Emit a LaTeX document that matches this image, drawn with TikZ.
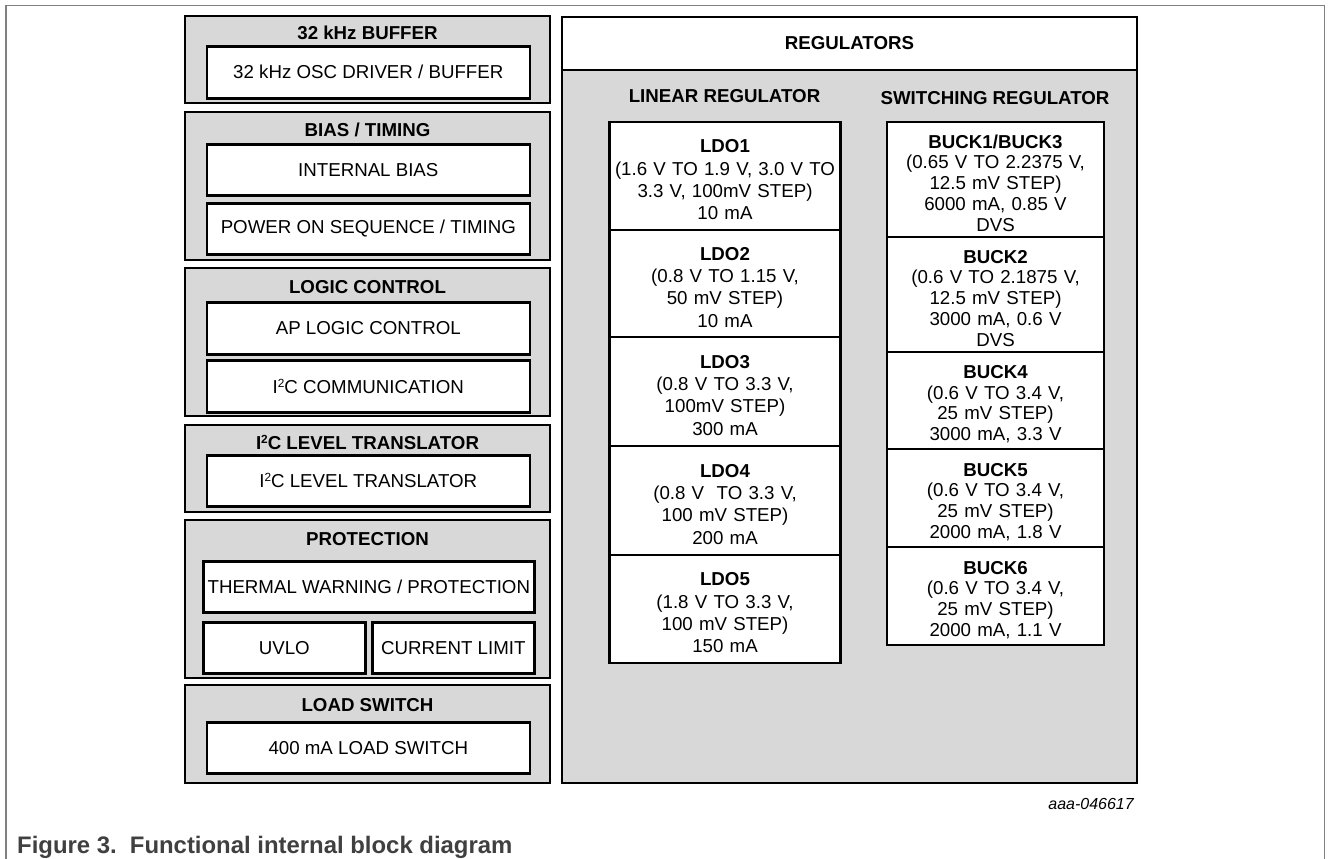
\documentclass[tikz,border=0pt]{standalone}
\usepackage{fontspec}
\setmainfont{Liberation Sans}
\usepackage{tikz}
\usetikzlibrary{positioning}
\definecolor{blkgray}{RGB}{216,216,216}
\definecolor{framegray}{RGB}{128,128,128}
\definecolor{capgray}{RGB}{64,64,64}
\newcommand{\bodyfont}{\fontsize{18.7}{22.3}\selectfont}
\newcommand{\buckfont}{\fontsize{18.7}{20.7}\selectfont}
\newcommand{\itwoc}{I\raisebox{6pt}{\fontsize{11.8}{11.8}\selectfont 2}C}
\newcommand{\regname}[1]{\rule{0pt}{20.5pt}\textbf{#1}}

\begin{document}
\begin{tikzpicture}[x=1pt,y=-1pt,
   grpbox/.style={draw,line width=2.6pt,fill=blkgray,anchor=north west,minimum width=365pt,outer sep=0pt},
   grptitle/.style={font=\bodyfont\bfseries,inner sep=0pt},
   blkbox/.style={draw,line width=2.6pt,fill=white,anchor=north west,minimum width=323pt,minimum height=52pt,inner sep=1pt,font=\bodyfont},
   ldo/.style={draw,line width=2.6pt,fill=white,minimum width=231pt,text width=225pt,align=center,inner sep=0pt,outer sep=0pt,font=\bodyfont},
   buck/.style={ldo,minimum width=217pt,text width=211pt,font=\buckfont}]
   \useasboundingbox (0,0) rectangle (1328,859);
   \draw[framegray,line width=1.3pt] (6,859) -- (6,5.5) -- (1324.5,5.5) -- (1324.5,859);

   % left column
   \node[grpbox,minimum height=87pt] (buf) at (185,16) {};
   \node[grptitle] (buftitle) at (367.5,33) {32 kHz BUFFER};
   \node[blkbox] (bufosc) at (205.5,45) {32 kHz OSC DRIVER / BUFFER};

   \node[grpbox,minimum height=148pt] (bias) at (185,112) {};
   \node[grptitle] (biastitle) at (367.5,130) {BIAS / TIMING};
   \node[blkbox,minimum height=51pt] (ibias) at (205.5,143) {INTERNAL BIAS};
   \node[blkbox,minimum height=51pt] (pwrseq) at (205.5,202) {POWER ON SEQUENCE / TIMING};

   \node[grpbox,minimum height=148pt] (logic) at (185,268) {};
   \node[grptitle] (logictitle) at (367.5,287) {LOGIC CONTROL};
   \node[blkbox] (aplogic) at (205.5,301) {AP LOGIC CONTROL};
   \node[blkbox] (i2ccom) at (205.5,359) {\itwoc{} COMMUNICATION};

   \node[grpbox,minimum height=87pt] (lvl) at (185,425) {};
   \node[grptitle] (lvltitle) at (367.5,442) {\itwoc{} LEVEL TRANSLATOR};
   \node[blkbox,minimum height=51pt] (lvltr) at (205.5,454) {\itwoc{} LEVEL TRANSLATOR};

   \node[grpbox,minimum height=158pt] (prot) at (185,520) {};
   \node[grptitle] (prottitle) at (367.5,539) {PROTECTION};
   \node[blkbox,minimum width=331pt,minimum height=51pt] (therm) at (202,560) {THERMAL WARNING / PROTECTION};
   \node[blkbox,minimum width=162pt,minimum height=51pt] (uvlo) at (202,621) {UVLO};
   \node[blkbox,minimum width=162pt,minimum height=51pt] (ilim) at (371,621) {CURRENT LIMIT};

   \node[grpbox,minimum height=98pt] (lsw) at (185,685) {};
   \node[grptitle] (lswtitle) at (367.5,705) {LOAD SWITCH};
   \node[blkbox,minimum height=51pt] (lsw400) at (205.5,721) {400 mA LOAD SWITCH};

   % regulators
   \node[grpbox,minimum width=575pt,minimum height=766pt] (reg) at (562,17) {};
   \node[grpbox,fill=white,minimum width=575pt,minimum height=53pt,font=\bodyfont\bfseries] (reghdr) at (562,17) {REGULATORS};
   \node[grptitle] (linhdr) at (724.5,96) {LINEAR REGULATOR};
   \node[grptitle] (swhdr) at (995,98) {SWITCHING REGULATOR};

   \node[ldo,anchor=north west,minimum height=108pt] (ldo1) at (609.5,122)
      {\regname{LDO1}\\(1.6 V TO 1.9 V, 3.0 V TO\\3.3 V, 100mV STEP)\\10 mA};
   \node[ldo,minimum height=107pt] (ldo2) [below=0pt of ldo1]
      {\regname{LDO2}\\(0.8 V TO 1.15 V,\\50 mV STEP)\\10 mA};
   \node[ldo,minimum height=109pt] (ldo3) [below=0pt of ldo2]
      {\regname{LDO3}\\(0.8 V TO 3.3 V,\\100mV STEP)\\300 mA};
   \node[ldo,minimum height=109pt] (ldo4) [below=0pt of ldo3]
      {\regname{LDO4}\\(0.8 V\ \ TO 3.3 V,\\100 mV STEP)\\200 mA};
   \node[ldo,minimum height=108pt] (ldo5) [below=0pt of ldo4]
      {\regname{LDO5}\\(1.8 V TO 3.3 V,\\100 mV STEP)\\150 mA};

   \node[buck,anchor=north west,minimum height=115pt] (buck13) at (887,122)
      {\regname{BUCK1/BUCK3}\\(0.65 V TO 2.2375 V,\\12.5 mV STEP)\\6000 mA, 0.85 V\\DVS};
   \node[buck,minimum height=115pt] (buck2) [below=0pt of buck13]
      {\regname{BUCK2}\\(0.6 V TO 2.1875 V,\\12.5 mV STEP)\\3000 mA, 0.6 V\\DVS};
   \node[buck,minimum height=97pt] (buck4) [below=0pt of buck2]
      {\regname{BUCK4}\\(0.6 V TO 3.4 V,\\25 mV STEP)\\3000 mA, 3.3 V};
   \node[buck,minimum height=98pt] (buck5) [below=0pt of buck4]
      {\regname{BUCK5}\\(0.6 V TO 3.4 V,\\25 mV STEP)\\2000 mA, 1.8 V};
   \node[buck,minimum height=98pt] (buck6) [below=0pt of buck5]
      {\regname{BUCK6}\\(0.6 V TO 3.4 V,\\25 mV STEP)\\2000 mA, 1.1 V};

   % figure id and caption
   \node[font=\fontsize{16}{16}\selectfont\itshape,anchor=east,inner sep=0pt] (figid) at (1134,804) {aaa-046617};
   \node[font=\fontsize{23.9}{28}\selectfont\bfseries,text=capgray,anchor=base west,inner sep=0pt] (figcap) at (17,853)
      {Figure 3.\hspace{0.55em}Functional internal block diagram};
\end{tikzpicture}
\end{document}
